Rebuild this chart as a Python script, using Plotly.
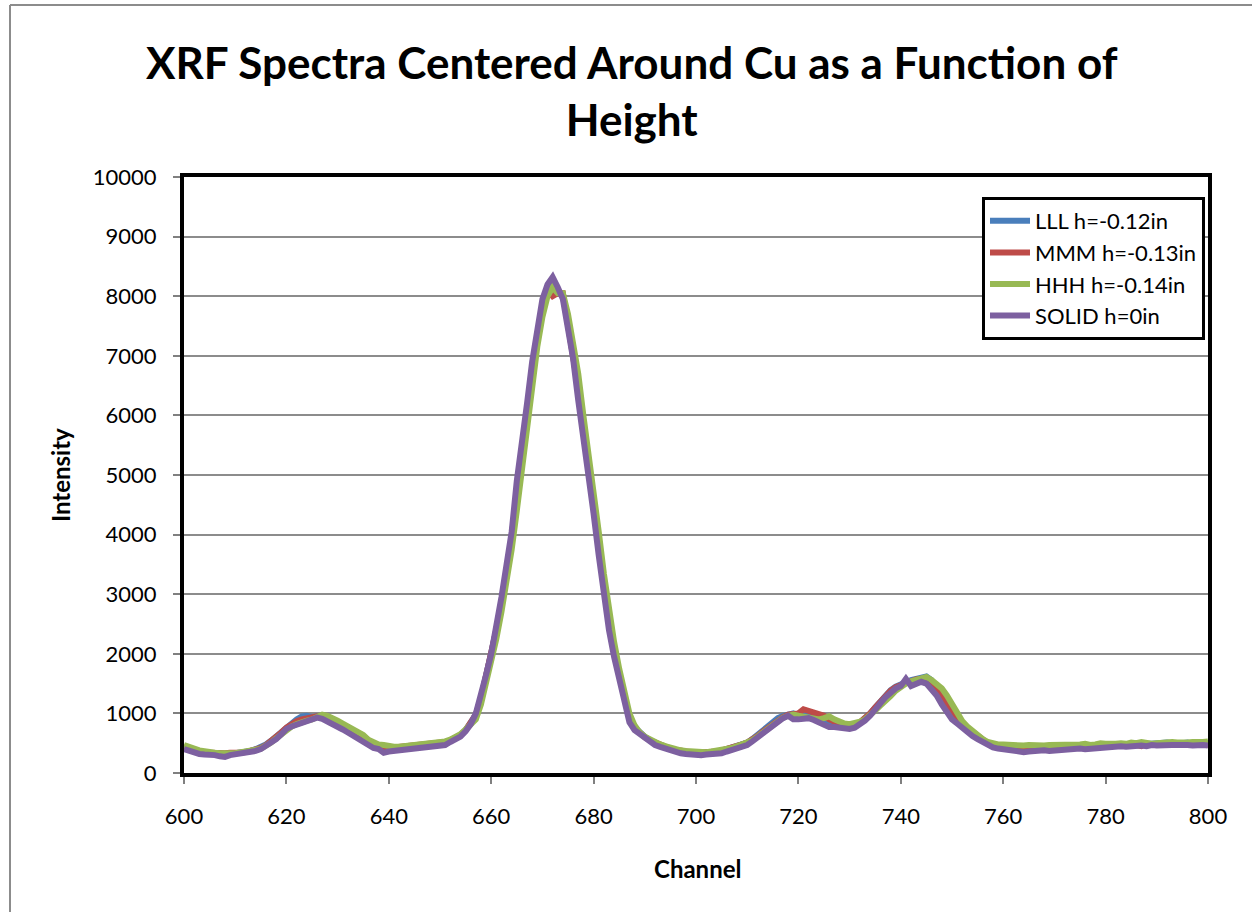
import plotly.graph_objects as go

channels = list(range(600, 801))

lll = [
    440, 400, 370, 350, 340, 330, 320, 300, 310, 320,
    330, 340, 350, 370, 400, 430, 480, 540, 610, 700,
    780, 850, 900, 950, 960, 940, 950, 930, 890, 840,
    800, 760, 710, 650, 600, 540, 490, 450, 420, 390,
    400, 410, 420, 420, 430, 440, 440, 450, 460, 470,
    480, 510, 540, 580, 640, 720, 830, 980, 1250, 1600,
    1950, 2400, 2850, 3400, 3950, 4700, 5350, 6050, 6750, 7350,
    7850, 8150, 8200, 8100, 8000, 7550, 7050, 6450, 5800, 5200,
    4500, 3800, 3100, 2550, 2050, 1650, 1250, 930, 770, 680,
    610, 550, 500, 460, 430, 400, 380, 370, 350, 340,
    330, 330, 340, 340, 350, 370, 400, 430, 460, 480,
    510, 570, 640, 720, 790, 860, 920, 960, 990, 1000,
    960, 980, 1000, 950, 900, 850, 820, 800, 800, 790,
    790, 800, 840, 910, 1000, 1100, 1200, 1300, 1390, 1450,
    1490, 1530, 1560, 1580, 1600, 1620, 1560, 1420, 1280, 1120,
    980, 880, 800, 730, 660, 600, 550, 500, 470, 450,
    440, 430, 410, 400, 400, 410, 420, 420, 410, 410,
    420, 430, 430, 440, 440, 450, 440, 450, 460, 450,
    470, 460, 470, 480, 470, 490, 500, 480, 490, 500,
    490, 500, 510, 500, 490, 500, 510, 490, 500, 510,
    500,
]

mmm = [
    430, 410, 380, 350, 340, 340, 330, 320, 330, 340,
    330, 340, 350, 370, 390, 420, 470, 530, 600, 680,
    760, 820, 870, 900, 920, 930, 950, 940, 910, 870,
    830, 790, 760, 720, 650, 580, 520, 470, 440, 410,
    420, 430, 440, 440, 450, 450, 460, 470, 480, 490,
    500, 520, 550, 590, 640, 720, 830, 980, 1250, 1600,
    1950, 2400, 2850, 3400, 3950, 4700, 5350, 6000, 6700, 7300,
    7800, 8100, 8000, 8050, 8050, 7550, 7050, 6450, 5800, 5200,
    4500, 3800, 3100, 2550, 2050, 1650, 1250, 920, 760, 670,
    600, 550, 510, 470, 440, 410, 390, 370, 360, 350,
    340, 340, 350, 350, 360, 380, 400, 430, 460, 480,
    510, 560, 620, 690, 760, 830, 890, 940, 980, 990,
    1000, 1070, 1040, 1010, 980, 960, 900, 860, 830, 820,
    810, 820, 850, 920, 1000, 1100, 1200, 1300, 1380, 1440,
    1480, 1520, 1540, 1570, 1580, 1560, 1520, 1450, 1320, 1180,
    1020, 900, 820, 750, 680, 610, 560, 500, 470, 460,
    470, 450, 430, 420, 430, 440, 430, 420, 430, 440,
    450, 440, 450, 460, 450, 470, 450, 460, 470, 450,
    460, 450, 470, 480, 460, 480, 470, 450, 490, 480,
    490, 480, 490, 500, 480, 470, 500, 490, 480, 490,
    470,
]

hhh = [
    470, 430, 410, 380, 360, 350, 340, 330, 320, 330,
    330, 340, 360, 370, 390, 410, 450, 510, 580, 650,
    730, 780, 820, 860, 880, 900, 950, 980, 960, 930,
    880, 830, 780, 740, 700, 640, 560, 510, 480, 470,
    450, 440, 440, 450, 460, 460, 470, 480, 490, 500,
    510, 530, 560, 600, 650, 730, 800, 900, 1150, 1500,
    1850, 2250, 2700, 3200, 3750, 4400, 5100, 5800, 6500, 7150,
    7650, 8000, 8150, 8050, 8050, 7700, 7200, 6700, 6000, 5400,
    4800, 4050, 3350, 2700, 2200, 1750, 1350, 1000, 800, 680,
    610, 560, 520, 480, 450, 420, 400, 380, 370, 360,
    350, 350, 350, 360, 370, 380, 400, 420, 450, 480,
    510, 550, 610, 680, 750, 820, 880, 930, 960, 980,
    960, 940, 930, 920, 900, 920, 950, 900, 860, 830,
    820, 830, 860, 900, 960, 1050, 1130, 1200, 1290, 1380,
    1450, 1500, 1540, 1570, 1600, 1610, 1560, 1500, 1420, 1300,
    1150, 1000, 870, 780, 700, 630, 570, 520, 490, 480,
    480, 470, 460, 450, 460, 470, 460, 450, 460, 470,
    470, 460, 470, 480, 470, 480, 490, 470, 480, 500,
    490, 480, 490, 500, 490, 510, 500, 520, 500, 490,
    500, 510, 500, 520, 510, 500, 510, 520, 510, 520,
    530,
]

solid = [
    400, 370, 340, 320, 310, 310, 300, 280, 270, 300,
    310, 320, 330, 340, 370, 400, 450, 500, 570, 650,
    740, 780, 810, 840, 860, 900, 930, 910, 870, 820,
    780, 730, 680, 630, 570, 510, 460, 420, 400, 340,
    360, 370, 370, 380, 390, 390, 400, 410, 420, 430,
    440, 470, 520, 560, 610, 700, 820, 1000, 1300, 1650,
    2000, 2450, 2950, 3500, 4050, 4900, 5500, 6200, 6900, 7500,
    7950, 8200, 8320, 8150, 7950, 7450, 6950, 6250, 5650, 5050,
    4350, 3650, 2950, 2400, 1950, 1550, 1150, 850, 720, 650,
    590, 520, 470, 440, 410, 380, 350, 330, 320, 310,
    300, 300, 310, 310, 320, 330, 360, 390, 420, 440,
    470, 530, 600, 670, 730, 800, 870, 920, 960, 900,
    900, 910, 920, 890, 850, 810, 770, 770, 760, 750,
    740, 760, 810, 880, 960, 1080, 1170, 1270, 1360, 1420,
    1460, 1580, 1460, 1490, 1530, 1500, 1410, 1300, 1150, 1030,
    900, 830, 750, 690, 620, 570, 520, 460, 430, 410,
    400, 390, 370, 350, 350, 360, 370, 380, 380, 370,
    380, 390, 390, 400, 400, 410, 400, 410, 420, 420,
    440, 430, 440, 450, 440, 450, 460, 460, 450, 470,
    460, 470, 480, 470, 470, 480, 470, 460, 470, 470,
    460,
]

series_names = ["LLL h=-0.12in", "MMM h=-0.13in", "HHH h=-0.14in", "SOLID h=0in"]
series_values = [lll, mmm, hhh, solid]
series_colors = ["#4A7EBB", "#BE4B48", "#98B954", "#7D60A0"]

title_text = "XRF Spectra Centered Around Cu as a Function of<br>Height"
x_title = "Channel"
y_title = "Intensity"

FONT = "Lato, 'Open Sans', sans-serif"

W, H = 1252, 912
L, R, T, B = 184, 44, 177, 139
PW, PH = W - L - R, H - T - B


def px(xp):
    return (xp - L) / PW


def py(yp):
    return (H - B - yp) / PH


fig = go.Figure()
for name, vals, col in zip(series_names, series_values, series_colors):
    fig.add_trace(go.Scatter(
        x=channels, y=vals, name=name, mode="lines",
        line=dict(color=col, width=6),
    ))

fig.update_layout(
    width=W, height=H,
    margin=dict(l=L, r=R, t=T, b=B, pad=0),
    paper_bgcolor="white", plot_bgcolor="white",
    font=dict(family=FONT, color="black", size=22),
    showlegend=True,
    legend=dict(
        x=px(1205), y=py(197), xanchor="right", yanchor="top",
        bgcolor="white", bordercolor="black", borderwidth=3,
        font=dict(family=FONT, size=22, color="black"),
        tracegroupgap=0, itemwidth=40,
    ),
    xaxis=dict(
        range=[600, 800], dtick=20, tick0=600,
        showgrid=False, zeroline=False,
        showline=True, linecolor="black", linewidth=4, mirror=True,
        ticks="outside", ticklen=7, tickwidth=2, tickcolor="#808080",
        tickfont=dict(family=FONT, size=22, color="black"),
        ticklabelstandoff=14,
    ),
    yaxis=dict(
        range=[0, 10000], dtick=1000, tick0=0, tickformat="d",
        showgrid=True, gridcolor="#8C8C8C", gridwidth=2,
        zeroline=False,
        showline=True, linecolor="black", linewidth=4, mirror=True,
        ticks="outside", ticklen=7, tickwidth=2, tickcolor="#808080",
        tickfont=dict(family=FONT, size=22, color="black"),
        ticklabelstandoff=12,
    ),
    annotations=[
        dict(text="<b>" + title_text.replace("<br>", "</b><br><b>") + "</b>",
             x=px(632), y=py(90), xref="paper", yref="paper",
             xanchor="center", yanchor="middle", showarrow=False,
             font=dict(family=FONT, size=44, color="black")),
        dict(text="<b>" + x_title + "</b>",
             x=px(697), y=py(868), xref="paper", yref="paper",
             xanchor="center", yanchor="middle", showarrow=False,
             font=dict(family=FONT, size=24, color="black")),
        dict(text="<b>" + y_title + "</b>",
             x=px(60), y=py(475), xref="paper", yref="paper",
             xanchor="center", yanchor="middle", showarrow=False, textangle=-90,
             font=dict(family=FONT, size=24, color="black")),
    ],
    shapes=[
        dict(type="line", xref="paper", yref="paper",
             x0=px(10), x1=px(10), y0=py(5), y1=py(915),
             line=dict(color="#8C8C8C", width=2)),
        dict(type="line", xref="paper", yref="paper",
             x0=px(10), x1=px(1260), y0=py(5), y1=py(5),
             line=dict(color="#8C8C8C", width=2)),
    ],
)

fig.write_html("out.html")
